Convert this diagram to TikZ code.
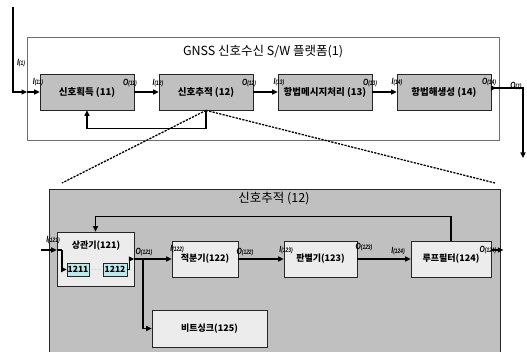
\documentclass[tikz,border=0pt]{standalone}
\usepackage{fontspec}
\newfontfamily\kr{Noto Sans CJK KR}
\newfontfamily\lbl{Liberation Sans}[FakeStretch=0.75]
\usetikzlibrary{arrows.meta,calc}
\definecolor{boxgray}{HTML}{C0C0C0}
\definecolor{lightbox}{HTML}{ECECEC}
\definecolor{subcyan}{HTML}{BFE8EA}
\definecolor{framegray}{HTML}{6E6E6E}
\newcommand\lab[2]{{\lbl\bfseries\itshape\fontsize{9}{9}\selectfont #1\fontsize{6.5}{6.5}\selectfont(#2)}}
\begin{document}
\begin{tikzpicture}[x=1pt,y=-1pt,
  blk/.style={draw=black!85, line width=0.7pt, fill=boxgray, minimum width=94pt, minimum height=36pt, inner sep=0pt, font={\kr\bfseries\fontsize{9.5}{10}\selectfont}},
  iblk/.style={draw=black!85, line width=0.7pt, fill=lightbox, minimum height=36pt, inner sep=0pt, font={\kr\bfseries\fontsize{9}{10}\selectfont}},
  sblk/.style={draw=black!85, line width=0.7pt, fill=subcyan, minimum height=13pt, inner sep=0pt, font={\kr\bfseries\fontsize{8.5}{9}\selectfont}},
  arr/.style={-{Triangle[length=5.5pt,width=5pt]}, line width=1.2pt},
  ln/.style={line width=1.2pt},
  dsh/.style={line width=1.3pt, dash pattern=on 2.2pt off 1.2pt},
  lab/.style={inner sep=0pt},
  ttl/.style={inner sep=0pt, font={\kr\fontsize{12.5}{13}\selectfont}}]
\useasboundingbox (0,0) rectangle (527,352);
% platform frame
\node[draw=framegray, line width=1pt, minimum width=472pt, minimum height=103pt, inner sep=0pt] (plat) at (263,89.5) {};
\node[ttl] (t1) at (263,52) {GNSS 신호수신 S/W 플랫폼(1)};
% blocks
\node[blk] (b11) at (87,92) {신호획득 (11)};
\node[blk] (b12) at (206,92) {신호추적 (12)};
\node[blk] (b13) at (325,92) {항법메시지처리 (13)};
\node[blk] (b14) at (444,92) {항법해생성 (14)};
% input
\coordinate (in) at (13,7);
\coordinate (pin) at (27,92);
\draw[arr] (in) |- (pin);
\draw[arr] (pin) -- (b11.west);
\draw[arr] (b11.east) -- (b12.west);
\draw[arr] (b12.east) -- (b13.west);
\draw[arr] (b13.east) -- (b14.west);
% output
\coordinate (o14) at ($(b14.east)+(0,-4)$);
\coordinate (out) at (523,158);
\draw[arr] (o14) -- ++(5,0);
\draw[arr] (o14) -| (out);
% feedback
\draw[arr] (b12.south) -- ++(0,18) -| (b11.south);
% labels
\node[lab] (l1) at (21,63) {\lab{I}{1}};
\node[lab] (l11i) at (38,82) {\lab{I}{11}};
\node[lab] (l11o) at (130,83) {\lab{O}{11}};
\node[lab] (l12i) at (158,83) {\lab{I}{12}};
\node[lab] (l12o) at (249,83) {\lab{O}{12}};
\node[lab] (l13i) at (279,82) {\lab{I}{13}};
\node[lab] (l13o) at (370,83) {\lab{O}{13}};
\node[lab] (l14i) at (397,82) {\lab{I}{14}};
\node[lab] (l14o) at (489,82) {\lab{O}{14}};
\node[lab] (l1o) at (516,86) {\lab{O}{1}};
% dashed zoom lines
\coordinate (dl) at (62,183);
\coordinate (dr) at (495,183);
\draw[dsh] (b12.south) -- (dl);
\draw[dsh] (b12.south) -- (dr);
% inner frame
\fill[boxgray] (49,189) rectangle (500,353);
\draw[line width=0.8pt, black!85] (49,353) -- (49,189) -- (500,189) -- (500,353);
\node[ttl] (t2) at (274,199) {신호추적 (12)};
% inner blocks
\node[iblk, minimum width=77pt, minimum height=54pt] (c121) at (95.5,259) {};
\node[inner sep=0pt, font={\kr\bfseries\fontsize{9}{10}\selectfont}] (t121) at (96,246) {상관기(121)};
\node[sblk, minimum width=22pt] (s1211) at (78,269.5) {1211};
\node[sblk, minimum width=24pt] (s1212) at (115,269.5) {1212};
\node[inner sep=0pt, text=black!60, font=\fontsize{6}{6}\selectfont] (dots) at (96,270) {$\cdots$};
\node[iblk, minimum width=66pt] (c122) at (205,259) {적분기(122)};
\node[iblk, minimum width=73pt] (c123) at (320.5,259) {판별기(123)};
\node[iblk, minimum width=80pt] (c124) at (451,259) {루프필터(124)};
\node[iblk, minimum width=115pt, minimum height=37pt] (c125) at (209.5,328.5) {비트싱크(125)};
% inner connectors
\coordinate (i121) at (41,250);
\coordinate (k1) at (62,250);
\draw[arr] (i121) -- (c121.west|-i121);
\draw[ln] (c121.west|-i121) -- (k1);
\draw[arr] (k1) |- (s1211.west);
\draw[arr] (s1212.east) -- ++(2.5,0) |- (c121.east);
\draw[arr] (c121.east) -- (c122.west);
\coordinate (br) at (143,259);
\draw[arr] (br) |- (c125.west);
\draw[arr] (c122.east) -- (c123.west);
\draw[arr] (c123.east) -- (c124.west);
\coordinate (o124) at ($(c124.east)+(0,-9)$);
\draw[arr] (o124) -- ++(12,0);
\draw[arr] (c124.north) -- ++(0,-24) -| (c121.north);
% inner labels
\node[lab] (l121i) at (53,240) {\lab{I}{121}};
\node[lab] (l121o) at (144,252) {\lab{O}{121}};
\node[lab] (l122i) at (177,249) {\lab{I}{122}};
\node[lab] (l122o) at (245,252) {\lab{O}{122}};
\node[lab] (l123i) at (286,250) {\lab{I}{123}};
\node[lab] (l123o) at (364,247) {\lab{O}{123}};
\node[lab] (l124i) at (398,251) {\lab{I}{124}};
\node[lab] (l124o) at (488,250) {\lab{O}{124}};
\end{tikzpicture}
\end{document}
